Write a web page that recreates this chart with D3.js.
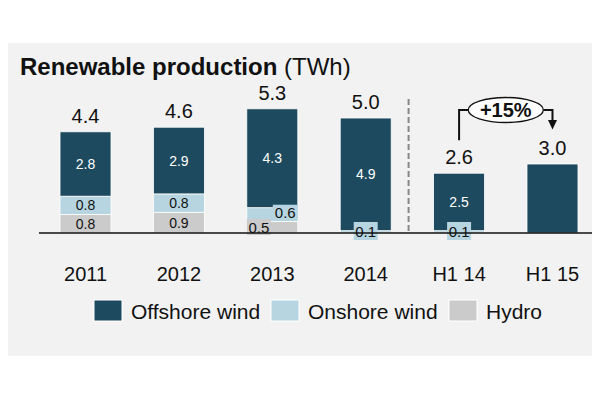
<!DOCTYPE html>
<html>
<head>
<meta charset="utf-8">
<script src="https://cdn.jsdelivr.net/npm/d3@7"></script>
<style>
  body { margin: 0; background: #fff; }
  svg { display: block; font-family: "Liberation Sans", Arial, sans-serif; }
</style>
</head>
<body>
<svg id="chart" width="600" height="399"></svg>
<script>
const categories = ['2011', '2012', '2013', '2014', 'H1 14', 'H1 15'];
const hydro = [0.8, 0.9, 0.5, 0, 0, 0];
const onshore = [0.8, 0.8, 0.6, 0.1, 0.1, 0];
const offshore = [2.8, 2.9, 4.3, 4.9, 2.5, 3.0];
const totals = ['4.4', '4.6', '5.3', '5.0', '2.6', '3.0'];
const seriesNames = ['Offshore wind', 'Onshore wind', 'Hydro'];
const growthLabel = '+15%';

const colors = { hydro: '#cbcbcb', onshore: '#b6d5e0', offshore: '#1d4a5e' };

const svg = d3.select('#chart');

// grey panel
svg.append('rect').attr('x', 8).attr('y', 43).attr('width', 584).attr('height', 313).attr('fill', '#f2f2f2');

svg.append('text').attr('x', 20).attr('y', 75).attr('font-size', 24).attr('fill', '#111')
  .call(t => {
    t.append('tspan').attr('font-weight', 'bold').text('Renewable production');
    t.append('tspan').text(' (TWh)');
  });

const x = d3.scaleBand().domain(categories).range([39, 599]).paddingInner(0.454).paddingOuter(0.225);
const y = d3.scaleLinear().domain([0, 5]).range([233, 118]);
const bw = x.bandwidth();

const rows = categories.map((c, i) => ({ cat: c, hydro: hydro[i], onshore: onshore[i], offshore: offshore[i], total: totals[i] }));
const stack = d3.stack().keys(['hydro', 'onshore', 'offshore'])(rows);

const g = svg.append('g');

stack.forEach(layer => {
  g.selectAll(null).data(layer.filter(d => d[1] > d[0])).enter().append('rect')
    .attr('x', d => x(d.data.cat))
    .attr('y', d => y(d[1]))
    .attr('width', bw)
    .attr('height', d => y(d[0]) - y(d[1]))
    .attr('fill', colors[layer.key])
    .attr('stroke', '#fff').attr('stroke-width', 0.8);
});

// labels inside segments
rows.forEach((r, i) => {
  const x0 = x(r.cat);
  const segs = stack.map(layer => ({ key: layer.key, d: layer[i] })).filter(s => s.d[1] > s.d[0]);
  if (segs.length < 2) return;
  const small = segs.filter(s => y(s.d[0]) - y(s.d[1]) < 16);
  segs.filter(s => !small.includes(s)).forEach(s => {
    g.append('text').attr('x', x0 + bw / 2).attr('y', (y(s.d[0]) + y(s.d[1])) / 2 + 5)
      .attr('text-anchor', 'middle').attr('font-size', 14)
      .attr('fill', s.key === 'offshore' ? '#fff' : '#111')
      .text(d3.format('.1f')(s.d[1] - s.d[0]));
  });
  small.forEach((s, k) => {
    let bx, by, w, h;
    if (small.length === 1) {
      w = 24; h = 18; bx = x0 + bw / 2 - w / 2; by = y(0) - 11;
    } else if (k === 0) {
      w = 24; h = 16; bx = x0; by = y(0) - 14;
    } else {
      w = 25; h = 16; bx = x0 + bw - w; by = y(s.d[1]) - 3;
    }
    g.append('rect').attr('x', bx).attr('y', by).attr('width', w).attr('height', h).attr('fill', colors[s.key]);
    g.append('text').attr('x', bx + w / 2).attr('y', by + h / 2 + 5.5)
      .attr('text-anchor', 'middle').attr('font-size', 15).attr('fill', '#111')
      .text(d3.format('.1f')(s.d[1] - s.d[0]));
  });
});

// totals
g.selectAll(null).data(rows).enter().append('text')
  .attr('x', d => x(d.cat) + bw / 2)
  .attr('y', d => y(d.hydro + d.onshore + d.offshore) - 9)
  .attr('text-anchor', 'middle').attr('font-size', 20).attr('fill', '#111')
  .text(d => d.total);

// baseline
svg.append('line').attr('x1', 39).attr('x2', 592).attr('y1', y(0)).attr('y2', y(0))
  .attr('stroke', '#111').attr('stroke-width', 1.5);

// divider
const dx = x('H1 14') - 25;
svg.append('line').attr('x1', dx).attr('x2', dx).attr('y1', 99).attr('y2', y(0))
  .attr('stroke', '#888').attr('stroke-width', 2).attr('stroke-dasharray', '6,3');

// category labels
svg.append('g').attr('transform', 'translate(0,233)')
  .call(d3.axisBottom(x).tickSize(0).tickPadding(0))
  .call(a => a.select('.domain').remove())
  .selectAll('text').attr('y', 47.5).attr('dy', null)
  .attr('font-size', 20).attr('font-family', 'inherit').attr('fill', '#111');

// growth annotation
const ax1 = x('H1 14') + bw / 2, ax2 = x('H1 15') + bw / 2;
const ay = 110, ecx = (ax1 + ax2) / 2, erx = 37.5;
const ann = svg.append('g');
ann.append('path')
  .attr('d', `M${ax1},${y(2.6) - 33}V${ay}H${ecx - erx}M${ecx + erx},${ay}H${ax2}V${ay + 11}`)
  .attr('fill', 'none').attr('stroke', '#111').attr('stroke-width', 2);
ann.append('path')
  .attr('d', `M${ax2 - 4.5},${ay + 10}L${ax2 + 4.5},${ay + 10}L${ax2},${ay + 19.5}Z`)
  .attr('fill', '#111');
ann.append('ellipse').attr('cx', ecx).attr('cy', ay).attr('rx', erx).attr('ry', 12.5)
  .attr('fill', '#fff').attr('stroke', '#111').attr('stroke-width', 1.3);
ann.append('text').attr('x', ecx).attr('y', ay + 7).attr('text-anchor', 'middle')
  .attr('font-size', 20).attr('font-weight', 'bold').attr('fill', '#111').text(growthLabel);

// legend
const legendX = [94, 271, 449];
const legendColors = [colors.offshore, colors.onshore, colors.hydro];
const lg = svg.append('g').selectAll(null).data(seriesNames).enter().append('g')
  .attr('transform', (d, i) => `translate(${legendX[i]},300)`);
lg.append('rect').attr('width', 28).attr('height', 21).attr('fill', (d, i) => legendColors[i])
  .attr('stroke', '#fff').attr('stroke-width', 1);
lg.append('text').attr('x', 37).attr('y', 19).attr('font-size', 21).attr('fill', '#111').text(d => d);
</script>
</body>
</html>
